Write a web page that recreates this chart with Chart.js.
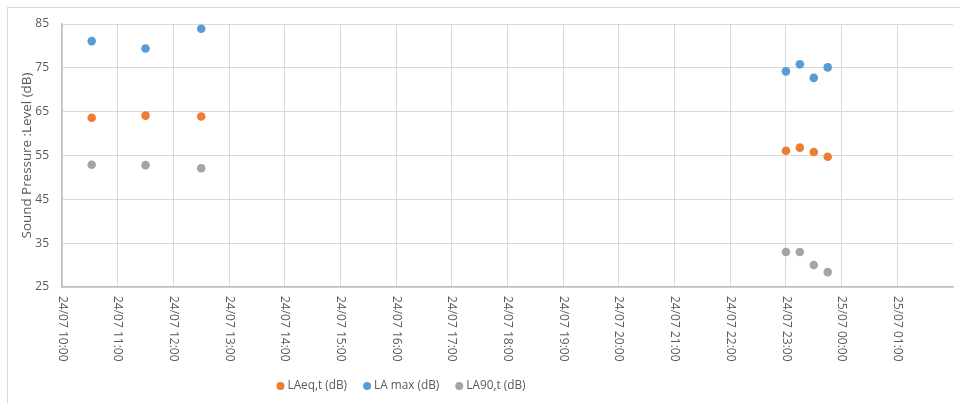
<!DOCTYPE html>
<html>
<head>
<meta charset="utf-8">
<script src="https://cdn.jsdelivr.net/npm/chart.js@4.4.1/dist/chart.umd.min.js"></script>
<style>
  html, body { margin: 0; padding: 0; background: #ffffff; }
  #wrap { position: relative; width: 960px; height: 403px; }
</style>
</head>
<body>
<div id="wrap"><canvas id="c" width="960" height="403"></canvas></div>
<script>
// Measurement times (dd/mm hh:mm)
const times = ["24/07 10:32", "24/07 11:30", "24/07 12:30", "24/07 23:00", "24/07 23:15", "24/07 23:30", "24/07 23:45"];
// Sound levels in dB
const laeq  = [63.6, 64.1, 63.9, 56.1, 56.8, 55.8, 54.7];
const lamax = [81.1, 79.4, 83.9, 74.2, 75.8, 72.7, 75.1];
const la90  = [52.9, 52.8, 52.1, 33.0, 33.0, 30.0, 28.4];
const seriesNames = ["LAeq,t (dB)", "LA max (dB)", "LA90,t (dB)"];
const seriesColors = ["#ED7D31", "#5B9BD5", "#A5A5A5"];
const yTicks = [25, 35, 45, 55, 65, 75, 85];
const xStartHour = 10, xEndHour = 26;   // 24/07 10:00 .. 25/07 02:00
const yTitle = "Sound Pressure :Level (dB)";

const FONT = "'Open Sans', sans-serif";
const TXT = "#595959";

// "dd/mm hh:mm" -> hours from 24/07 00:00
function toHours(s) {
  const [d, t] = s.split(" ");
  const day = parseInt(d.split("/")[0], 10);
  const [hh, mm] = t.split(":").map(Number);
  return (day - 24) * 24 + hh + mm / 60;
}
function hourLabel(v) {
  const day = 24 + Math.floor(v / 24);
  const h = ((v % 24) + 24) % 24;
  return String(day).padStart(2, "0") + "/07 " + String(h).padStart(2, "0") + ":00";
}
const pts = vals => vals.map((y, i) => ({ x: toHours(times[i]), y }));

// Vertical (clockwise) date labels under the x axis
const xLabels = {
  id: "xLabels",
  afterDraw(chart) {
    const sc = chart.scales.x, ctx = chart.ctx;
    ctx.save();
    ctx.font = "12px " + FONT;
    ctx.fillStyle = TXT;
    ctx.textAlign = "left";
    ctx.textBaseline = "middle";
    sc.ticks.forEach(t => {
      if (t.value >= xEndHour) return;
      const x = sc.getPixelForValue(t.value);
      ctx.save();
      ctx.translate(x, chart.chartArea.bottom + 9);
      ctx.rotate(Math.PI / 2);
      ctx.fillText(hourLabel(t.value), 0, 0);
      ctx.restore();
    });
    ctx.restore();
  }
};

// Legend row and outer frame
const legendRow = {
  id: "legendRow",
  afterDraw(chart) {
    const ctx = chart.ctx;
    ctx.save();
    ctx.strokeStyle = "#d9d9d9";
    ctx.lineWidth = 1;
    ctx.strokeRect(7.5, 7.5, 980, 420);
    ctx.font = "11.8px " + FONT;
    ctx.textBaseline = "middle";
    const items = chart.data.datasets.map(ds => ({ text: ds.label, color: ds.backgroundColor, w: ctx.measureText(ds.label).width }));
    const gap = 16, mark = 11;
    const total = items.reduce((a, it) => a + mark + it.w, 0) + gap * (items.length - 1);
    let x = 401 - total / 2;
    const y = 386;
    items.forEach(it => {
      ctx.fillStyle = it.color;
      ctx.beginPath();
      ctx.arc(x + 4, y, 4, 0, Math.PI * 2);
      ctx.fill();
      ctx.fillStyle = TXT;
      ctx.textAlign = "left";
      ctx.fillText(it.text, x + mark, y);
      x += mark + it.w + gap;
    });
    ctx.restore();
  }
};

const series = [laeq, lamax, la90];
new Chart(document.getElementById("c"), {
  type: "scatter",
  data: {
    datasets: series.map((vals, i) => ({
      label: seriesNames[i],
      data: pts(vals),
      backgroundColor: seriesColors[i],
      borderColor: seriesColors[i],
      pointRadius: 4.3,
      pointBorderWidth: 0,
      pointHoverRadius: 4.3
    }))
  },
  options: {
    responsive: false,
    animation: false,
    layout: { padding: { left: 10, top: 24, right: 7, bottom: 0 } },
    plugins: { legend: { display: false }, tooltip: { enabled: false } },
    scales: {
      x: {
        type: "linear",
        min: xStartHour,
        max: xEndHour,
        ticks: { display: false, stepSize: 1 },
        afterBuildTicks(sc) {
          sc.ticks = [];
          for (let h = xStartHour; h <= xEndHour; h++) sc.ticks.push({ value: h });
        },
        afterFit(sc) { sc.height = 116; },
        grid: {
          drawTicks: false,
          color: ctx => (ctx.tick && ctx.tick.value >= xEndHour) ? "rgba(0,0,0,0)" : "#d9d9d9",
          lineWidth: 1
        },
        border: { color: "#bfbfbf", width: 1.5 }
      },
      y: {
        min: 25,
        max: 85,
        afterBuildTicks(sc) { sc.ticks = yTicks.map(v => ({ value: v })); },
        ticks: { color: TXT, font: { family: FONT, size: 12 }, padding: 13 },
        afterFit(sc) { sc.width = 52; },
        title: {
          display: true,
          text: yTitle,
          color: TXT,
          font: { family: FONT, size: 13.4 },
          padding: { top: 9, bottom: 0 }
        },
        grid: { drawTicks: false, color: "#d9d9d9", lineWidth: 1 },
        border: { color: "#bfbfbf", width: 1.5 }
      }
    }
  },
  plugins: [xLabels, legendRow]
});
</script>
</body>
</html>
